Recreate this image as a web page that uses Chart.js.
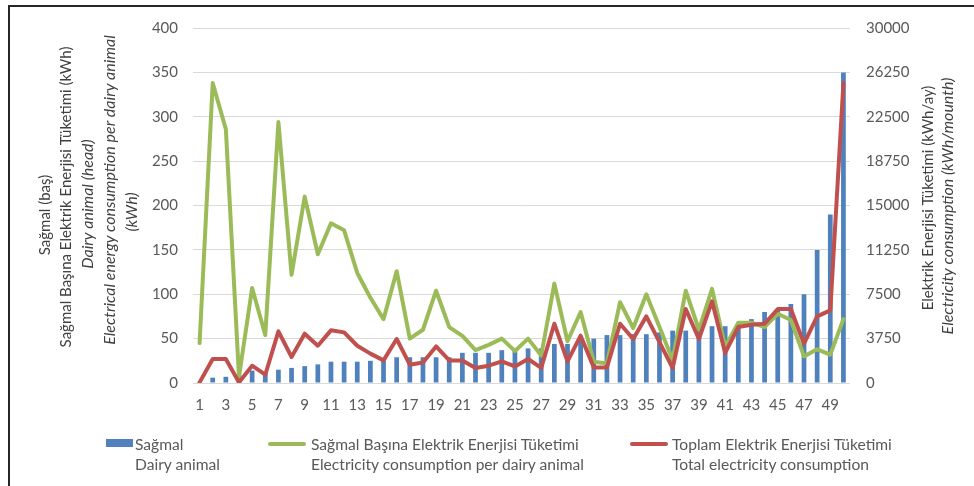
<!DOCTYPE html>
<html>
<head>
<meta charset="utf-8">
<script src="https://cdn.jsdelivr.net/npm/chart.js@4.4.1/dist/chart.umd.min.js"></script>
<style>
  body { margin: 0; background: #fff; }
  #wrap { position: relative; width: 974px; height: 486px; font-family: Lato, "Liberation Sans", sans-serif; }
  #frame { position: absolute; left: 8px; top: 5px; right: 0; bottom: 0; border-left: 2px solid #262626; border-top: 2px solid #262626; }
  .lg { position: absolute; top: 434px; line-height: 20px; font-size: 15.6px; color: #595959; white-space: nowrap; }
  .sw { position: absolute; }
</style>
</head>
<body>
<div id="wrap">
  <div id="frame"></div>
  <canvas id="chart"></canvas>
  <div class="sw" style="left:106px;top:439px;width:27px;height:8px;background:#4f81bd"></div>
  <div class="lg" style="left:135px">Sağmal<br>Dairy animal</div>
  <div class="sw" style="left:268px;top:442px;width:38px;height:4px;border-radius:2px;background:#9bbb59"></div>
  <div class="lg" style="left:311px">Sağmal Başına Elektrik Enerjisi Tüketimi<br>Electricity consumption per dairy animal</div>
  <div class="sw" style="left:630px;top:442px;width:38px;height:4px;border-radius:2px;background:#c0504d"></div>
  <div class="lg" style="left:672px">Toplam Elektrik Enerjisi Tüketimi<br>Total electricity consumption</div>
</div>
<script>
const categories = ['1','2','3','4','5','6','7','8','9','10','11','12','13','14','15','16','17','18','19','20',
  '21','22','23','24','25','26','27','28','29','30','31','32','33','34','35','36','37','38','39','40',
  '41','42','43','44','45','46','47','48','49','50'];

// Sağmal (baş) - left axis
const dairyAnimals = [1, 6, 7, 9, 14, 12, 15, 17, 19, 21, 24, 24, 24, 25, 25, 29, 29, 29, 29, 29,
  34, 34, 34, 37, 38, 39, 39, 44, 44, 49, 50, 54, 54, 55, 55, 57, 59, 59, 62, 64,
  64, 68, 72, 80, 82, 89, 100, 150, 190, 350];

// kWh per dairy animal - left axis
const perAnimal = [45, 338, 286, 7, 107, 54, 294, 122, 210, 145, 180, 172, 124, 96, 72, 126, 50, 60, 104, 63,
  53, 37, 43, 50, 36, 50, 31, 112, 47, 80, 24, 22, 91, 62, 100, 63, 26, 104, 60, 106,
  41, 68, 68, 63, 78, 71, 30, 38, 32, 72];

// kWh/month total - right axis
const totalConsumption = [50, 2030, 2030, 50, 1460, 700, 4360, 2200, 4170, 3150, 4450, 4280, 3150, 2480, 1910, 3720, 1550, 1740, 3090, 1910,
  1910, 1270, 1460, 1830, 1400, 2030, 1270, 5010, 1830, 4000, 1320, 1320, 5010, 3720, 5630, 3450, 1270, 6250, 3720, 6900,
  2540, 4730, 4930, 5010, 6250, 6250, 3320, 5630, 6140, 25350];

const leftTicks = [0, 50, 100, 150, 200, 250, 300, 350, 400];
const rightTicks = [0, 3750, 7500, 11250, 15000, 18750, 22500, 26250, 30000];

const leftTitle = [
  ['Sağmal (baş)', false, 45, 215],
  ['Sağmal Başına Elektrik Enerjisi Tüketimi (kWh)', false, 66.5, 197],
  ['Dairy animal (head)', true, 88, 204],
  ['Electrical energy consumption per dairy animal', true, 110, 190],
  ['(kWh)', true, 131.5, 212]
];
const rightTitle = [
  ['Elektrik Enerjisi Tüketimi (kWh/ay)', false, 928, 198],
  ['Electricity consumption (kWh/mounth)', true, 948, 206]
];

const tickFont = {family: 'Lato, "Liberation Sans", sans-serif', size: 15};

const axisTitles = {
  id: 'axisTitles',
  afterDraw(chart) {
    const ctx = chart.ctx;
    ctx.save();
    ctx.fillStyle = '#404040';
    ctx.textAlign = 'center';
    ctx.textBaseline = 'middle';
    for (const [txt, it, x, y] of leftTitle.concat(rightTitle)) {
      ctx.save();
      ctx.font = it ? 'italic 16px Lato, "Liberation Sans", sans-serif' : '15px Lato, "Liberation Sans", sans-serif';
      ctx.translate(x, y);
      ctx.rotate(-Math.PI / 2);
      ctx.fillText(txt, 0, 0);
      ctx.restore();
    }
    ctx.restore();
  }
};

const ctx = document.getElementById('chart');

new Chart(ctx, {
  data: {
    labels: categories,
    datasets: [
      {
        type: 'line',
        label: 'Toplam Elektrik Enerjisi Tüketimi',
        data: totalConsumption,
        yAxisID: 'y1',
        borderColor: '#c0504d',
        borderWidth: 4,
        pointRadius: 0,
        tension: 0,
        borderJoinStyle: 'round',
        borderCapStyle: 'round',
        order: 1
      },
      {
        type: 'line',
        label: 'Sağmal Başına Elektrik Enerjisi Tüketimi',
        data: perAnimal,
        yAxisID: 'y',
        borderColor: '#9bbb59',
        borderWidth: 4,
        pointRadius: 0,
        tension: 0,
        borderJoinStyle: 'round',
        borderCapStyle: 'round',
        order: 2
      },
      {
        type: 'bar',
        label: 'Sağmal',
        data: dairyAnimals,
        yAxisID: 'y',
        backgroundColor: '#4f81bd',
        categoryPercentage: 1,
        barPercentage: 0.36,
        order: 3
      }
    ]
  },
  options: {
    responsive: true,
    maintainAspectRatio: false,
    animation: false,
    layout: {padding: {top: 28, left: 0, right: 0, bottom: 0}},
    plugins: {
      legend: {display: false},
      tooltip: {enabled: false}
    },
    scales: {
      x: {
        grid: {display: false, drawTicks: false},
        border: {display: false},
        ticks: {
          color: '#595959',
          font: tickFont,
          padding: 13,
          autoSkip: false,
          maxRotation: 0,
          callback: (v, i) => (i % 2 === 0 ? categories[i] : '')
        },
        afterFit: s => { s.height = 103; }
      },
      y: {
        position: 'left',
        min: 0,
        max: 400,
        afterBuildTicks: s => { s.ticks = leftTicks.map(v => ({value: v})); },
        grid: {color: '#d9d9d9', lineWidth: 1, drawTicks: false},
        border: {display: false},
        ticks: {color: '#595959', font: tickFont, padding: 15, callback: v => String(v)},
        afterFit: s => { s.width = 193; }
      },
      y1: {
        position: 'right',
        min: 0,
        max: 30000,
        afterBuildTicks: s => { s.ticks = rightTicks.map(v => ({value: v})); },
        grid: {display: false, drawTicks: false},
        border: {display: false},
        ticks: {color: '#595959', font: tickFont, padding: 16, callback: v => String(v)},
        afterFit: s => { s.width = 124; }
      }
    }
  },
  plugins: [axisTitles]
});
</script>
</body>
</html>
